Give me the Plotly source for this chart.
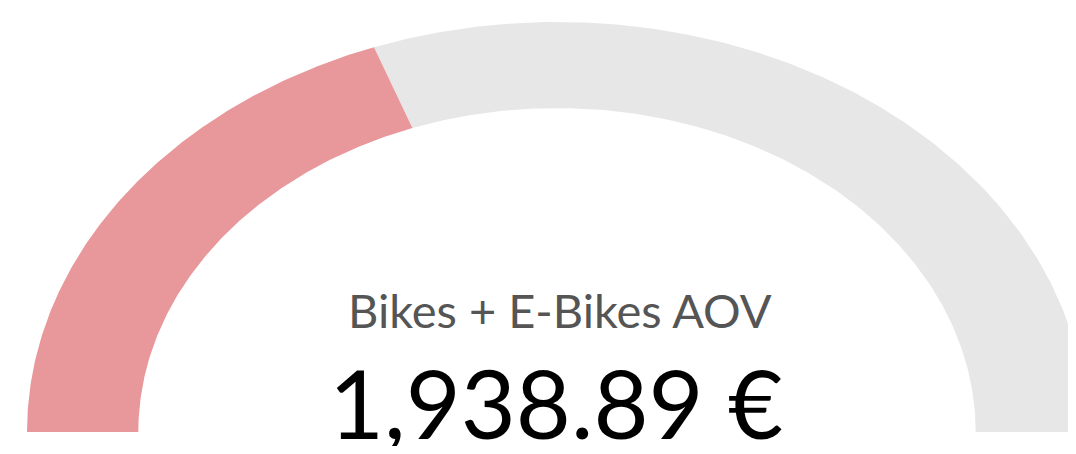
import numpy as np
import plotly.graph_objects as go

# gauge data
label = "Bikes + E-Bikes AOV"
value = 1938.89
gauge_max = 5000
value_text = "1,938.89 €"

colors = {"value": "#E8979A", "rest": "#E7E7E7"}
inner = 0.79  # inner radius relative to outer


def band(start, end, n=200):
    """ Closed shape of an arc band between two fractions of the gauge. """
    theta = np.pi * (1 - np.linspace(start, end, n))
    xs = np.concatenate([np.cos(theta), inner * np.cos(theta[::-1])])
    ys = np.concatenate([np.sin(theta), inner * np.sin(theta[::-1])])
    return np.append(xs, xs[0]), np.append(ys, ys[0])


frac = value / gauge_max

fig = go.Figure()
x, y = band(frac, 1)
fig.add_trace(go.Scatter(x=x, y=y, fill="toself", fillcolor=colors["rest"],
                         mode="lines", line=dict(width=0), hoverinfo="skip"))
x, y = band(0, frac)
fig.add_trace(go.Scatter(x=x, y=y, fill="toself", fillcolor=colors["value"],
                         mode="lines", line=dict(width=0), hoverinfo="skip"))

fig.add_annotation(text=label, x=0.5173, y=0.242, xref="paper", yref="paper",
                   showarrow=False, font=dict(family="Lato", size=47, color="#555555"))
fig.add_annotation(text=value_text, x=0.5128, y=-0.0333, xref="paper", yref="paper",
                   showarrow=False, font=dict(family="Lato", size=95, color="#000000"))

# page body has an 8px margin, so keep the figure small enough to avoid scrollbars
W, H = 1068, 438
cx, cy, rx, ry = 549, 424, 530, 410
fig.update_layout(
    width=W, height=H, margin=dict(l=0, r=0, t=0, b=0),
    showlegend=False, plot_bgcolor="white", paper_bgcolor="white",
    xaxis=dict(range=[-cx / rx, (W - cx) / rx], visible=False),
    yaxis=dict(range=[-(H - cy) / ry, cy / ry], visible=False),
)

fig.write_html("out.html")
